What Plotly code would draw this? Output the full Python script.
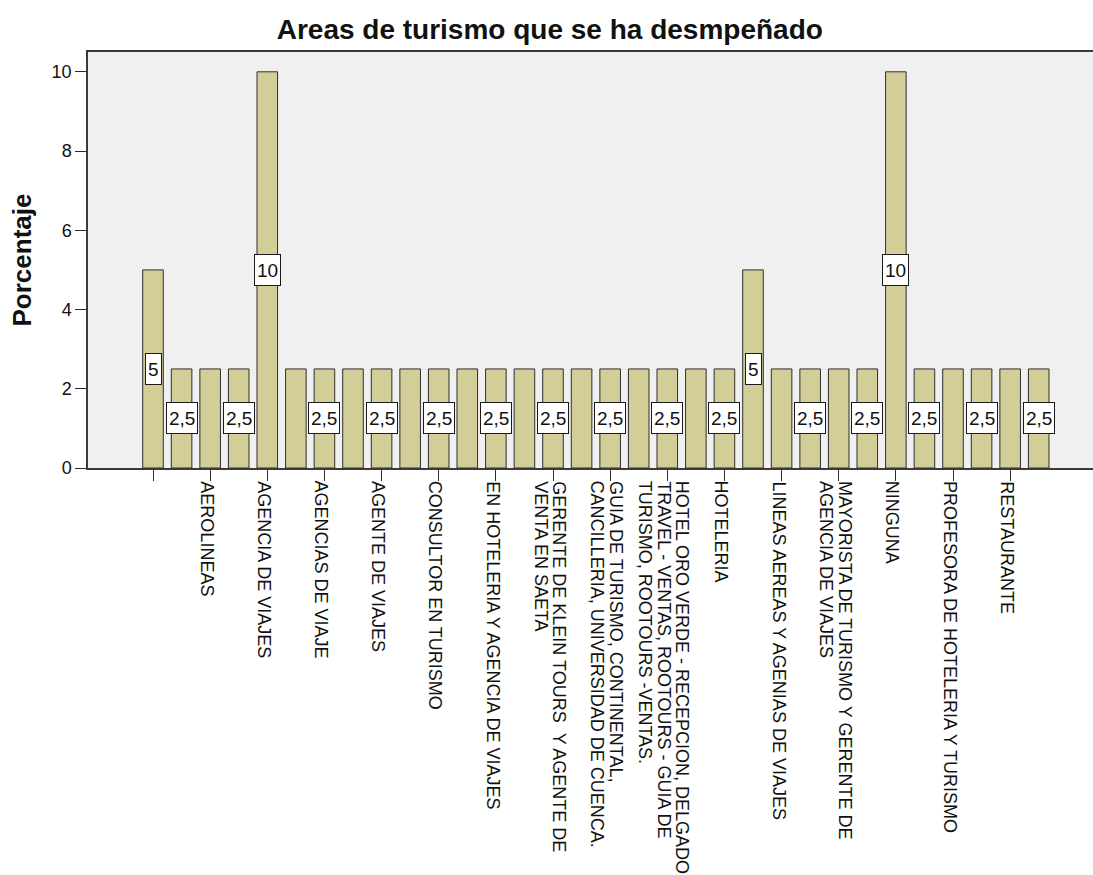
import plotly.graph_objects as go

# Porcentaje de encuestados por área de turismo (32 categorías en orden alfabético)
valores = [5, 2.5, 2.5, 2.5, 10, 2.5, 2.5, 2.5, 2.5, 2.5, 2.5, 2.5, 2.5, 2.5, 2.5, 2.5,
           2.5, 2.5, 2.5, 2.5, 2.5, 5, 2.5, 2.5, 2.5, 2.5, 10, 2.5, 2.5, 2.5, 2.5, 2.5]
posiciones = list(range(len(valores)))

# Etiquetas del eje X visibles (una de cada dos categorías)
pos_etiquetas = list(range(0, 32, 2))
etiquetas = [
    "",
    "AEROLINEAS",
    "AGENCIA DE VIAJES",
    "AGENCIAS DE VIAJE",
    "AGENTE DE VIAJES",
    "CONSULTOR EN TURISMO",
    "EN HOTELERIA Y AGENCIA DE VIAJES",
    "GERENTE DE KLEIN TOURS \u00a0Y AGENTE DE<br>VENTA EN SAETA",
    "GUIA DE TURISMO, CONTINENTAL,<br>CANCILLERIA, UNIVERSIDAD DE CUENCA.",
    "HOTEL ORO VERDE - RECEPCION, DELGADO<br>TRAVEL - VENTAS, ROOTOURS - GUIA DE<br>TURISMO, ROOTOURS -VENTAS.",
    "HOTELERIA",
    "LINEAS AEREAS Y AGENIAS DE VIAJES",
    "MAYORISTA DE TURISMO Y GERENTE DE<br>AGENCIA DE VIAJES",
    "NINGUNA",
    "PROFESORA DE HOTELERIA Y TURISMO",
    "RESTAURANTE",
]

# Barras que muestran su etiqueta de valor
barras_con_valor = [0, 1, 3, 4, 6, 8, 10, 12, 14, 16, 18, 20, 21, 23, 25, 26, 27, 29, 31]

FUENTE = "Liberation Sans, Arial, Helvetica, sans-serif"
TEXTO = "#111111"
INTERLINEA = 18.5   # separación (px) entre líneas de una misma etiqueta vertical
LARGO_MARCA = 11


def formato(v):
    return f"{v:g}".replace(".", ",")


fig = go.Figure(
    go.Bar(
        x=posiciones,
        y=valores,
        width=0.72,
        marker=dict(color="#d3ce97", line=dict(color="#2e2e2e", width=1)),
        hoverinfo="x+y",
    )
)

# Etiquetas de valor en el centro de cada barra
for i in barras_con_valor:
    fig.add_annotation(
        x=i, y=valores[i] / 2, xref="x", yref="y",
        text=formato(valores[i]), showarrow=False,
        bgcolor="white", bordercolor="#1a1a1a", borderwidth=1, borderpad=2,
        height=26,
        font=dict(family=FUENTE, size=19, color=TEXTO),
    )

# Etiquetas de categoría giradas 90°, una anotación por línea para
# controlar el interlineado
for pos, texto in zip(pos_etiquetas, etiquetas):
    lineas = [l for l in texto.split("<br>")]
    n = len(lineas)
    for k, linea in enumerate(lineas):
        if not linea:
            continue
        fig.add_annotation(
            x=pos, xref="x", y=0, yref="paper",
            xshift=((n - 1) / 2 - k) * INTERLINEA - 3,
            yshift=-(LARGO_MARCA + 1),
            text=linea, textangle=90, showarrow=False,
            xanchor="center", yanchor="top", borderpad=0,
            font=dict(family=FUENTE, size=18, color=TEXTO),
        )

fig.update_layout(
    width=1093, height=875,
    margin=dict(l=88, r=0, t=52, b=407),
    paper_bgcolor="white",
    plot_bgcolor="#f0f0f0",
    showlegend=False,
    font=dict(family=FUENTE, color=TEXTO),
    title=dict(
        text="<b>Areas de turismo que se ha desmpeñado</b>",
        x=0.503, xanchor="center", xref="container",
        y=1 - 29 / 875, yanchor="middle", yref="container",
        font=dict(family=FUENTE, size=28, color=TEXTO),
    ),
)

fig.update_xaxes(
    range=[-2.275, 32.9],
    tickmode="array", tickvals=pos_etiquetas, showticklabels=False,
    ticks="outside", ticklen=LARGO_MARCA, tickwidth=1.2, tickcolor="#2e2e2e",
    showline=True, linecolor="#3a3a3a", linewidth=1.5, mirror=True,
    showgrid=False, zeroline=False,
)

fig.update_yaxes(
    range=[0, 10.5],
    tickmode="array", tickvals=[0, 2, 4, 6, 8, 10],
    ticks="outside", ticklen=LARGO_MARCA, tickwidth=1.2, tickcolor="#2e2e2e",
    tickfont=dict(family=FUENTE, size=18, color=TEXTO),
    showline=True, linecolor="#3a3a3a", linewidth=1.5,
    showgrid=False, zeroline=False,
    title=dict(text="<b>Porcentaje</b>", standoff=13,
               font=dict(family=FUENTE, size=26, color=TEXTO)),
)

fig.write_html("out.html")
